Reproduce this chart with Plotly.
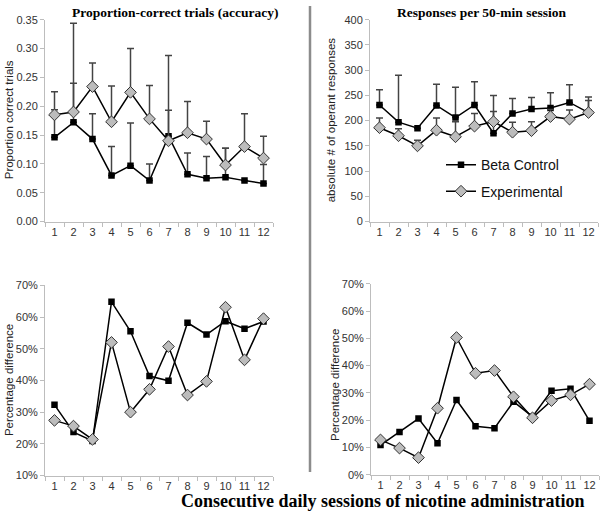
import plotly.graph_objects as go

W, H = 600, 517

sessions = ["1", "2", "3", "4", "5", "6", "7", "8", "9", "10", "11", "12"]

acc_beta = [0.146, 0.172, 0.143, 0.080, 0.097, 0.071, 0.148, 0.082, 0.075, 0.077, 0.071, 0.066]
acc_beta_err = [0.048, 0.068, 0.044, 0.050, 0.074, 0.029, 0.140, 0.037, 0.038, 0.050, 0.0, 0.033]
acc_exp = [0.185, 0.190, 0.234, 0.173, 0.224, 0.178, 0.140, 0.154, 0.143, 0.098, 0.130, 0.110]
acc_exp_err = [0.040, 0.154, 0.041, 0.062, 0.076, 0.058, 0.053, 0.054, 0.031, 0.029, 0.057, 0.038]

resp_beta = [231, 197, 185, 230, 206, 231, 175, 214, 223, 225, 236, 216]
resp_beta_err = [30, 93, 0, 42, 60, 46, 43, 30, 23, 30, 35, 31]
resp_exp = [186, 170, 150, 181, 168, 189, 198, 177, 180, 208, 203, 216]
resp_exp_err = [19, 14, 11, 24, 30, 25, 52, 20, 18, 14, 18, 24]

pct_acc_beta = [32.3, 23.7, 20.9, 64.8, 55.5, 41.4, 39.9, 58.2, 54.5, 58.7, 56.3, 58.6]
pct_acc_exp = [27.4, 25.6, 21.4, 52.0, 30.0, 37.2, 50.7, 35.4, 39.7, 63.1, 46.5, 59.5]
pct_resp_beta = [10.9, 15.7, 20.6, 11.6, 27.4, 17.8, 17.1, 26.8, 21.3, 30.8, 31.5, 19.8]
pct_resp_exp = [12.8, 9.8, 6.3, 24.4, 50.3, 37.2, 38.2, 28.6, 20.9, 27.2, 29.3, 33.2]

series_names = ["Beta Control", "Experimental"]


def px(x):
    return x / W


def py(y):
    return 1 - y / H


SANS = "Liberation Sans, Arial, sans-serif"
SERIF = "Liberation Serif, Times New Roman, serif"

beta_marker = dict(symbol="square", size=6.5, color="#000000")
exp_marker = dict(symbol="diamond", size=9, color="#bcbcbc", line=dict(color="#333333", width=1))
line_style = dict(color="#000000", width=1.5)

fig = go.Figure()


def add_pair(xa, ya, yb, ye, errb=None, erre=None, legend=False):
    eb = None
    ee = None
    if errb is not None:
        eb = dict(type="data", symmetric=False, array=errb, arrayminus=[0] * len(errb),
                  color="#444444", thickness=1.5, width=3.5)
        ee = dict(type="data", symmetric=False, array=erre, arrayminus=[0] * len(erre),
                  color="#444444", thickness=1.5, width=3.5)
    fig.add_trace(go.Scatter(x=sessions, y=yb, mode="lines+markers", name=series_names[0],
                             marker=beta_marker, line=line_style, error_y=eb,
                             xaxis=xa, yaxis=ya, showlegend=legend, legend="legend"))
    fig.add_trace(go.Scatter(x=sessions, y=ye, mode="lines+markers", name=series_names[1],
                             marker=exp_marker, line=line_style, error_y=ee,
                             xaxis=xa, yaxis=ya, showlegend=legend, legend="legend2"))


add_pair("x", "y", acc_beta, acc_exp, acc_beta_err, acc_exp_err)
add_pair("x2", "y2", resp_beta, resp_exp, resp_beta_err, resp_exp_err, legend=True)
add_pair("x3", "y3", pct_acc_beta, pct_acc_exp)
add_pair("x4", "y4", pct_resp_beta, pct_resp_exp)

axcol = "#bdbdbd"
tickfont = dict(family=SANS, size=11, color="#333333")


def xaxis(domain, anchor):
    return dict(domain=domain, anchor=anchor, type="category", tickson="boundaries",
                ticks="outside", ticklen=4, tickcolor=axcol, showline=True, linecolor=axcol,
                linewidth=1, showgrid=False, zeroline=False, tickfont=tickfont,
                tickangle=0, range=[-0.5, 11.5], fixedrange=True)


def yaxis(domain, anchor, rng, dtick, fmt="", suffix=""):
    return dict(domain=domain, anchor=anchor, range=rng, dtick=dtick, tickformat=fmt,
                ticksuffix=suffix, ticks="outside", ticklen=4, tickcolor=axcol,
                showline=True, linecolor=axcol, linewidth=1, showgrid=False,
                zeroline=False, tickfont=tickfont, fixedrange=True)


top = [py(220.7), py(14)]
fig.update_layout(
    width=W, height=H, margin=dict(l=0, r=0, t=0, b=0),
    paper_bgcolor="white", plot_bgcolor="white",
    xaxis=xaxis([px(45), px(273)], "y"),
    yaxis=yaxis(top, "x", [0, 0.35], 0.05, ".2f"),
    xaxis2=xaxis([px(370), px(598)], "y2"),
    yaxis2=yaxis(top, "x2", [0, 400], 50),
    xaxis3=xaxis([px(45), px(273)], "y3"),
    yaxis3=yaxis([py(480.7), py(286)], "x3", [10, 70], 10, "", "%"),
    xaxis4=xaxis([px(371), px(599)], "y4"),
    yaxis4=yaxis([py(480), py(284.3)], "x4", [0, 70], 10, "", "%"),
    legend=dict(x=px(441), y=py(163), xanchor="left", yanchor="middle",
                font=dict(family=SANS, size=14, color="#111111"), bgcolor="rgba(0,0,0,0)",
                itemwidth=30),
    legend2=dict(x=px(441), y=py(190), xanchor="left", yanchor="middle",
                 font=dict(family=SANS, size=14, color="#111111"), bgcolor="rgba(0,0,0,0)",
                 itemwidth=30),
)

# divider line
fig.add_shape(type="line", xref="paper", yref="paper", x0=px(310), x1=px(310),
              y0=py(0), y1=py(477), line=dict(color="#8c8c8c", width=2.5))

ann = [
    dict(text="<b>Proportion-correct trials (accuracy)</b>", x=px(175), y=py(7),
         font=dict(family=SERIF, size=13.5, color="#000")),
    dict(text="<b>Responses per 50-min session</b>", x=px(481), y=py(7),
         font=dict(family=SERIF, size=13.5, color="#000")),
    dict(text="<b>Consecutive daily sessions of nicotine administration</b>", x=px(383), y=py(507),
         font=dict(family=SERIF, size=18, color="#000")),
    dict(text="Proportion correct trials", x=px(9), y=py(117), textangle=-90,
         font=dict(family=SANS, size=11.5, color="#222")),
    dict(text="absolute # of operant responses", x=px(331), y=py(117), textangle=-90,
         font=dict(family=SANS, size=11.5, color="#222")),
    dict(text="Percentage difference", x=px(9), y=py(383), textangle=-90,
         font=dict(family=SANS, size=11.5, color="#222")),
    dict(text="Percentage difference", x=px(335), y=py(388), textangle=-90,
         font=dict(family=SANS, size=11.5, color="#222")),
]
for a in ann:
    fig.add_annotation(xref="paper", yref="paper", showarrow=False,
                       xanchor="center", yanchor="middle", **a)

fig.write_html("out.html", config={"displayModeBar": False},
               post_script="document.body.style.margin='0';document.body.style.overflow='hidden';")
